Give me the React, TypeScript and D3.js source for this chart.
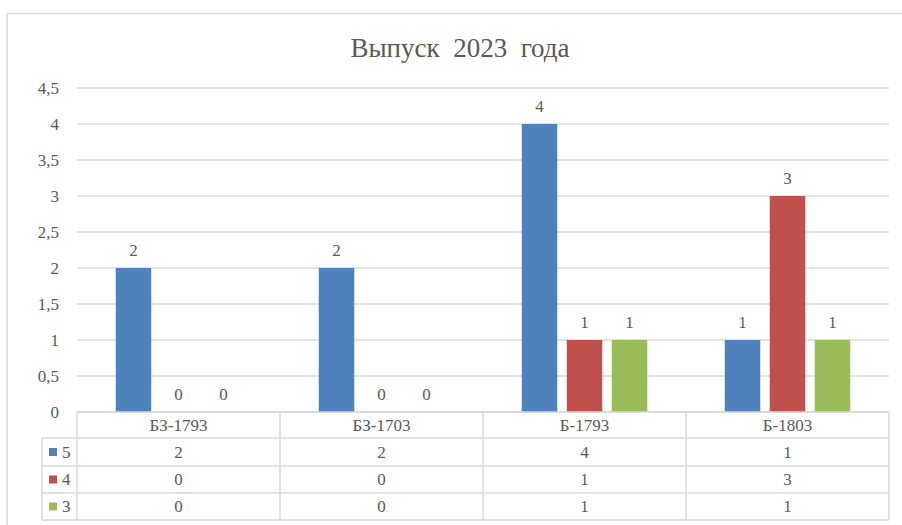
import React from "react";
import * as d3 from "d3";

const categories = ["БЗ-1793", "БЗ-1703", "Б-1793", "Б-1803"];
const seriesNames = ["5", "4", "3"];
const values5 = [2, 2, 4, 1];
const values4 = [0, 0, 1, 3];
const values3 = [0, 0, 1, 1];
const colors = ["#4f81bd", "#c0504d", "#9bbb59"];
const yTicks = [0, 0.5, 1, 1.5, 2, 2.5, 3, 3.5, 4, 4.5];
const title = "Выпуск  2023  года";

const seriesValues = [values5, values4, values3];

const W = 902;
const H = 525;
const plotLeft = 77;
const plotRight = 889;
const plotTop = 88;
const plotBottom = 412;
const rowTops = [412, 438, 466, 493, 520];
const legendLeft = 42;
const textColor = "#595959";
const gridColor = "#d9d9d9";
const font = "Liberation Serif";
const fs = 17;

export default function App() {
  const y = d3.scaleLinear().domain([0, 4.5]).range([plotBottom, plotTop]);
  const x = d3.scaleBand().domain(categories).range([plotLeft, plotRight]).paddingInner(0).paddingOuter(0);
  const xs = d3
    .scaleBand()
    .domain(seriesNames)
    .range([0, x.bandwidth()])
    .paddingInner(0.211)
    .paddingOuter(0.861);
  const fmt = (v: number) => String(v).replace(".", ",");
  const ts = { fontFamily: font, whiteSpace: "pre" as const };

  return (
    <svg
      width={W}
      height={H}
      style={{ position: "absolute", left: 0, top: 0, display: "block", background: "#fff", fontFamily: font }}
    >
      <rect x={0} y={0} width={W} height={H} fill="#fff" />
      <rect x={7} y={13.5} width={W + 20} height={H + 20} fill="none" stroke={gridColor} strokeWidth={1.5} />
      <text x={460} y={57} textAnchor="middle" fontSize={27} fill={textColor} style={ts}>
        {title}
      </text>
      {yTicks.map((t) => (
        <line key={"g" + t} x1={plotLeft} x2={plotRight} y1={y(t)} y2={y(t)} stroke={gridColor} strokeWidth={1.5} />
      ))}
      {yTicks.map((t) => (
        <text key={"t" + t} x={59} y={y(t)} dy="0.33em" textAnchor="end" fontSize={fs} fill={textColor} style={ts}>
          {fmt(t)}
        </text>
      ))}
      {seriesValues.map((vals, si) =>
        categories.map((c, ci) => {
          const bx = (x(c) as number) + (xs(seriesNames[si]) as number);
          const bw = xs.bandwidth();
          const v = vals[ci];
          return (
            <g key={si + "-" + ci}>
              {v > 0 && <rect x={bx} y={y(v)} width={bw} height={y(0) - y(v)} fill={colors[si]} />}
              <text x={bx + bw / 2} y={y(v) - 12} textAnchor="middle" fontSize={fs} fill={textColor} style={ts}>
                {v}
              </text>
            </g>
          );
        })
      )}
      <g stroke={gridColor} strokeWidth={1.5} fill="none">
        <line x1={plotLeft} x2={plotRight} y1={rowTops[0]} y2={rowTops[0]} />
        {rowTops.slice(1).map((ry, i) => (
          <line key={"r" + i} x1={legendLeft} x2={plotRight} y1={ry} y2={ry} />
        ))}
        <line x1={legendLeft} x2={legendLeft} y1={rowTops[1]} y2={rowTops[4]} />
        {categories.map((c) => (
          <line key={"v" + c} x1={x(c) as number} x2={x(c) as number} y1={rowTops[0]} y2={rowTops[4]} />
        ))}
        <line x1={plotRight} x2={plotRight} y1={rowTops[0]} y2={rowTops[4]} />
      </g>
      {categories.map((c) => (
        <text
          key={"h" + c}
          x={(x(c) as number) + x.bandwidth() / 2}
          y={(rowTops[0] + rowTops[1]) / 2}
          dy="0.35em"
          textAnchor="middle"
          fontSize={fs}
          fill={textColor}
          style={ts}
        >
          {c}
        </text>
      ))}
      {seriesNames.map((s, si) => {
        const cy = (rowTops[si + 1] + rowTops[si + 2]) / 2;
        return (
          <g key={"row" + s}>
            <rect x={49} y={cy - 4} width={8} height={8} fill={colors[si]} />
            <text x={62} y={cy} dy="0.35em" fontSize={fs} fill={textColor} style={ts}>
              {s}
            </text>
            {categories.map((c, ci) => (
              <text
                key={"cell" + c}
                x={(x(c) as number) + x.bandwidth() / 2}
                y={cy}
                dy="0.35em"
                textAnchor="middle"
                fontSize={fs}
                fill={textColor}
                style={ts}
              >
                {seriesValues[si][ci]}
              </text>
            ))}
          </g>
        );
      })}
    </svg>
  );
}
